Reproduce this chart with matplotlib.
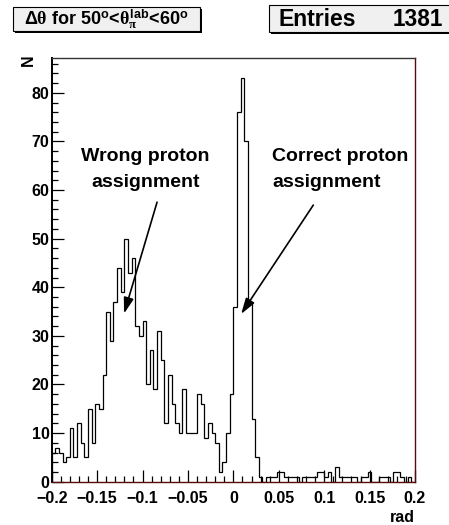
import matplotlib
matplotlib.use('Agg')
import matplotlib.pyplot as plt
import numpy as np
from matplotlib.patches import Rectangle
from matplotlib.ticker import MultipleLocator, FuncFormatter

plt.rcParams['font.family'] = ['Liberation Sans', 'DejaVu Sans']
plt.rcParams['font.weight'] = 'bold'
plt.rcParams['mathtext.fontset'] = 'custom'
plt.rcParams['mathtext.rm'] = 'Liberation Sans:bold'
plt.rcParams['mathtext.it'] = 'Liberation Serif'
plt.rcParams['mathtext.bf'] = 'Liberation Sans:bold'

# ---- data ----
x_min, x_max, n_bins = -0.2, 0.2, 100
counts = [6, 7, 6, 4, 5, 11, 5, 12, 8, 5,
          15, 8, 16, 15, 22, 35, 29, 37, 44, 39,
          50, 43, 46, 32, 30, 33, 20, 27, 19, 31,
          25, 12, 22, 16, 12, 10, 19, 10, 10, 10,
          18, 16, 9, 12, 10, 8, 2, 4, 10, 18,
          36, 76, 83, 70, 37, 13, 5, 1, 0, 1,
          1, 1, 2, 2, 1, 1, 1, 1, 0, 1,
          1, 1, 1, 2, 2, 1, 2, 0, 3, 1,
          1, 1, 1, 1, 0, 1, 1, 2, 0, 0,
          1, 1, 1, 0, 2, 2, 1, 0, 1, 0]
entries = 1381
title = (r'$\mathit{\Delta\theta}$ for 50$^{\mathrm{o}}$<'
         r'$\mathit{\theta}_{\mathit{\pi}}^{\mathrm{lab}}$<60$^{\mathrm{o}}$')
x_label = 'rad'
y_label = 'N'
wrong_text = ['Wrong proton', 'assignment']
correct_text = ['Correct proton', 'assignment']
wrong_arrow = ((-0.084, 57.5), (-0.1203, 34.6))
correct_arrow = ((0.088, 56.9), (0.0086, 34.5))

W, H = 449, 525
fig = plt.figure(figsize=(W / 100, H / 100), dpi=100)
fig.patch.set_facecolor('white')

L, R, T, B = 51.7, 415.0, 58.3, 481.7
ax = fig.add_axes([L / W, 1 - B / H, (R - L) / W, (B - T) / H])

edges = np.linspace(x_min, x_max, n_bins + 1)
ax.stairs(counts, edges, color='black', lw=0.9, baseline=0)

ax.set_xlim(x_min, x_max)
ax.set_ylim(0, 87.1)

ax.xaxis.set_major_locator(MultipleLocator(0.05))
ax.xaxis.set_minor_locator(MultipleLocator(0.01))
ax.yaxis.set_major_locator(MultipleLocator(10))
ax.yaxis.set_minor_locator(MultipleLocator(2))

def fmt(v, pos):
    s = '%g' % round(v, 4)
    if s == '-0':
        s = '0'
    return s.replace('-', '\u2212')

ax.xaxis.set_major_formatter(FuncFormatter(fmt))
ax.yaxis.set_major_formatter(FuncFormatter(fmt))
ax.tick_params(axis='both', which='major', direction='in', length=8.6, width=0.9,
               labelsize=11.5, top=False, right=False)
ax.tick_params(axis='both', which='minor', direction='in', length=4.3, width=0.9,
               top=False, right=False)
ax.tick_params(axis='x', which='major', pad=6.5)
ax.tick_params(axis='y', which='major', pad=1.5)
for lab in ax.get_xticklabels() + ax.get_yticklabels():
    lab.set_fontweight('bold')

ax.spines['left'].set_linewidth(1.4)
ax.spines['left'].set_color('black')
ax.spines['bottom'].set_color('#5a0a0a')
ax.spines['bottom'].set_linewidth(1.0)
ax.spines['right'].set_color('#5a0a0a')
ax.spines['right'].set_linewidth(1.0)
ax.spines['top'].set_color('#333333')
ax.spines['top'].set_linewidth(1.0)

# axis titles
fig.text(R / W, 1 - 518 / H, x_label, ha='right', va='center', fontsize=11.5, weight='bold')
fig.text(28.5 / W, 1 - 60 / H, y_label, ha='center', va='center', fontsize=11.5,
         weight='bold', rotation=90)

# annotations
for i, s in enumerate(wrong_text):
    ax.text(-0.097, 67 - 5.5 * i, s, ha='center', va='center', fontsize=14, weight='bold')
for i, s in enumerate(correct_text):
    ax.text(0.0425, 67 - 5.5 * i, s, ha='left', va='center', fontsize=14, weight='bold')
for start, tip in (wrong_arrow, correct_arrow):
    ax.annotate('', xy=tip, xytext=start,
                arrowprops=dict(arrowstyle='-|>,head_length=0.95,head_width=0.3',
                                color='black', lw=1.2, mutation_scale=10,
                                shrinkA=0, shrinkB=0))

# title box and stats box (figure pixel coords)
def pbox(x0, y0, x1, y1):
    sh = 2.0
    fig.patches.append(Rectangle((x0 / W + sh / W, 1 - y1 / H - sh / H), (x1 - x0) / W,
                                 (y1 - y0) / H, transform=fig.transFigure,
                                 facecolor='black', edgecolor='none', zorder=5))
    fig.patches.append(Rectangle((x0 / W, 1 - y1 / H), (x1 - x0) / W, (y1 - y0) / H,
                                 transform=fig.transFigure, facecolor='#f0f0f0',
                                 edgecolor='black', lw=0.8, zorder=6))

pbox(12.7, 6.7, 199.7, 31.0)
fig.text(106 / W, 1 - 19 / H, title, ha='center', va='center', fontsize=13, zorder=7)

pbox(269, 5, 452, 31.5)
fig.text(279 / W, 1 - 19 / H, 'Entries', ha='left', va='center', fontsize=16.6,
         weight='bold', zorder=7)
fig.text(443 / W, 1 - 19 / H, str(entries), ha='right', va='center', fontsize=16.3,
         weight='bold', zorder=7)

fig.savefig('out.png', dpi=100)
